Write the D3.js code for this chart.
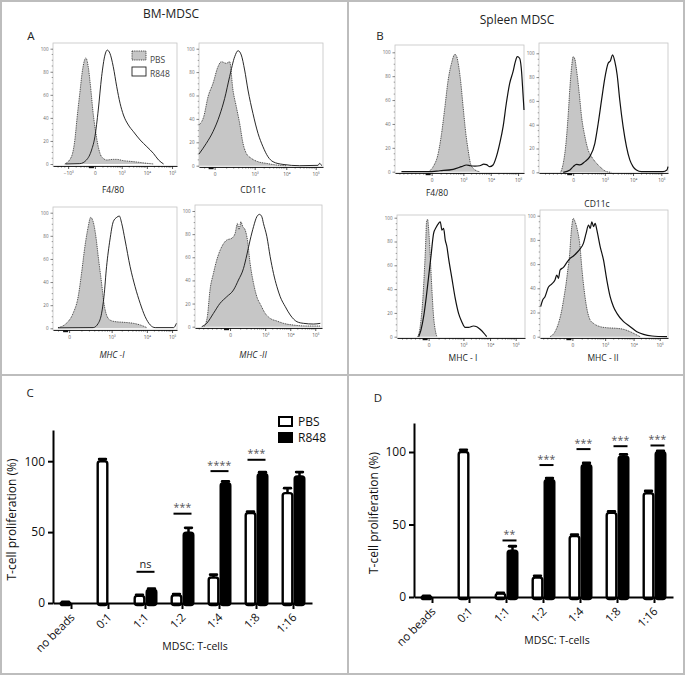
<!DOCTYPE html>
<html><head><meta charset="utf-8">
<script src="https://cdn.jsdelivr.net/npm/d3@7"></script>
<style>body{margin:0;background:#fff}svg{display:block}text{font-family:"Open Sans","Noto Sans",sans-serif}</style>
</head><body><svg id="c" width="685" height="676"></svg>
<script>
// ---------------- DATA ----------------
// Histograms: [position along axis (% of axis width), % of max]
const a1PBS=[[9.5,0],[14.9,6.4],[17.6,20.8],[19.5,41],[21.6,61.3],[23.8,81.5],[26.5,92],[28.4,84.4],[30.3,67],[32.4,44],[34.6,26.6],[36.5,15],[38.4,7.8],[40.5,4.9],[43.2,3.5],[48.6,4],[51.4,4],[56.8,2.9],[62.2,2.3],[67.6,1.7],[75.7,0.6],[81,0]];
const a1R848=[[10,0],[21.6,0.3],[27,3.5],[31.1,12.1],[33.8,23.7],[36.5,46.8],[39.2,75.7],[41.9,94.5],[43.8,98.8],[45.9,96],[48.6,84.4],[51.4,67],[54.1,52.6],[56.8,42.5],[60.8,33.8],[64.9,28],[70.3,20.8],[75.7,15],[81,9.2],[85.1,3.5],[89.2,0]];
const a2PBS=[[0,34.8],[3.8,41.9],[7.3,59],[11.3,70.4],[15.3,84.6],[18,88.9],[22,87.5],[24.7,88.9],[27.4,64.7],[30.1,50.4],[32.8,36.2],[35.5,19.1],[38.2,10.5],[42.2,6.3],[47.6,3.4],[54.3,2],[62.4,0.6],[70.4,0]];
const a2R848=[[0,10],[5.9,19.1],[11.3,29.1],[16.7,43.3],[20.7,57.5],[24.7,76.1],[28.8,93.2],[31.5,98.3],[34.1,94.6],[36.8,81.8],[39.5,64.7],[43.5,44.7],[47.6,27.6],[51.6,16.2],[55.6,7.7],[59.7,3.4],[67.7,1.1],[81.2,0],[96,0.3],[97.3,2],[98.9,0]];
const a3PBS=[[4.1,0.6],[10.8,4.3],[16.2,13],[20.3,27.4],[23,47.6],[25.7,70.6],[28.4,87.9],[30.3,96],[32.4,92.2],[34.6,79.3],[36.5,62],[39.2,38.9],[41.1,21.6],[43.2,11.5],[45.9,7.2],[50,5.8],[56.8,5.2],[64.9,4.3],[70.3,2.9],[75.7,0.6]];
const a3R848=[[4,0.4],[32.4,0.6],[36.5,4.3],[39.2,13],[41.1,27.4],[43.2,53.3],[45.9,76.4],[48.6,92.2],[51.4,96],[53.5,97.1],[55.4,90.8],[58.1,76.4],[62.2,53.3],[66.2,36],[70.3,21.6],[74.3,10.1],[78.4,2.9],[82.4,0.6],[97.3,0.6],[99.5,4.3]];
const a4PBS=[[7.1,0],[9.7,8.6],[11.8,31.7],[14.5,46.1],[17.1,57.6],[21.1,69.2],[25,74.9],[28.9,76.4],[31.6,80.7],[33.4,89.3],[34.7,83.6],[36.1,90.8],[37.6,86.5],[39.5,83.6],[41.3,74.9],[43.4,54.8],[46.1,37.5],[48.7,25.9],[51.8,18.7],[55.3,11.5],[59.2,7.2],[64.5,4.9],[69.7,2.9],[77.6,1.4],[88.2,0.6],[98.7,0.6]];
const a4R848=[[5.3,0],[9.2,2.9],[14.5,11.5],[19.7,20.2],[25,25.9],[30.3,31.7],[34.2,40.3],[38.2,50.4],[40.8,62],[43.4,74.9],[46.1,86.5],[48.7,95.1],[50.8,97.1],[52.6,95.1],[53.9,89.3],[56.6,77.8],[59.2,60.5],[61.8,46.1],[64.5,34.6],[67.1,25.9],[71.1,17.3],[75,10.1],[80.3,4.3],[85.5,2.9],[93.4,2.3],[98.7,2.9]];
const b1PBS=[[25.8,0],[29.6,4.2],[33.5,15.4],[36.1,32.1],[38.7,54.5],[41.2,76.8],[43.8,90.8],[46.4,98.3],[47.7,96.9],[49,90.8],[50.8,76.8],[52.8,54.5],[54.9,32.1],[56.7,18.2],[58.5,7],[60.6,2.8],[63.1,0.8],[65.7,0]];
const b1R848=[[5,0],[25.8,0],[34.8,0.8],[45.1,2],[51.5,4.2],[55.4,5.6],[58.5,5],[61.9,4.7],[65.7,5],[68.8,6.4],[70.9,5.9],[73.5,4.2],[76,5.6],[78.6,12.6],[81.2,23.7],[83.8,37.7],[86.3,57.3],[88.9,74],[91.5,83.8],[93.3,92.2],[94.8,96.4],[96.6,95],[97.9,86.6],[99.2,65.6],[100,51.7]];
const b2PBS=[[16.8,0],[18.8,7.6],[20.9,24.4],[22.7,49.6],[24,72],[25.3,88.8],[26.5,97.2],[27.8,95],[29.1,86],[31.2,66.4],[33,46.8],[35.6,30],[38.1,18.8],[40.7,13.2],[44.6,7.6],[48.5,3.4],[52.3,0.6],[56,0]];
const b2R848=[[18.8,0],[24,2],[26.5,4.8],[29.1,6.7],[31.7,6.2],[35.6,9],[39.4,13.2],[43.3,24.4],[45.9,41.2],[48.5,60.8],[51,79],[53.6,91.6],[55.4,93.8],[57,98.6],[58.8,93],[60.6,81.8],[62.6,60.8],[65.2,38.4],[67.8,21.6],[70.4,10.4],[72.9,4.8],[75.5,2],[79.4,0.6],[96.1,0.6],[99.2,2],[100,4.8]];
const b3PBS=[[16.1,0],[17.7,5.6],[19,16.8],[20.3,33.6],[21.3,53.2],[22.3,75.6],[23.1,96.6],[23.9,98.6],[24.7,91],[26,67.2],[27.3,39.2],[28.6,16.8],[29.9,5.6],[31.2,0]];
const b3R848=[[16.9,0],[18.7,5.6],[20.8,16.8],[22.9,33.6],[24.7,50.4],[26.5,67.2],[28.6,86.8],[30.6,91.9],[32.5,95.2],[33.8,96.6],[35.1,89.6],[36.4,91],[37.7,81.2],[39,75.6],[40.3,65.8],[42.9,49],[45.5,32.2],[48.1,19.6],[50.6,12.6],[53.2,7.8],[55.8,7.8],[59.7,9],[62.3,8.4],[64.9,6.2],[67.5,3.4],[70.1,0]];
const b4PBS=[[7.8,0],[11.7,4.1],[14.4,11],[17,22],[18.8,33.1],[20.4,44.1],[21.7,55.1],[23,66.1],[24.3,85.4],[25.3,95],[26.1,97.8],[27.4,95],[29.2,88.2],[31.3,74.4],[32.6,57.9],[34.5,38.6],[36.6,23.4],[39.2,13.8],[41.8,11],[47,8.3],[52.2,7.4],[60.1,6.9],[65.3,6.1],[70.5,4.1],[75.7,1.4],[78.3,0]];
const b4R848=[[0.5,24.8],[2.1,30.3],[3.9,33.1],[6.5,40.8],[9.1,43.5],[11.7,46.8],[13.1,51],[14.4,48.2],[15.7,55.1],[18.3,57.3],[20.9,61.2],[23.5,64.7],[26.1,66.7],[28.7,69.4],[31.3,72.5],[33.9,77.1],[36,85.4],[37.9,92.3],[39.2,89.5],[40.5,95],[41.8,90.9],[43.1,93.7],[44.4,88.2],[47,74.4],[49.6,63.4],[52.2,46.8],[54.8,33.1],[57.4,24.8],[60.1,19.3],[65.3,12.4],[70.5,8.3],[75.7,4.1],[80.9,1.9],[87.5,0.6],[99.2,0]];
// histogram axis ticks (position % of axis width) and labels
const histYTicks=[0,20,40,60,80,100];
const a1Ticks=[12.2,33.8,55.4,75.7,96], a1Labels=["−10³","0","10³","10⁴","10⁵"];
const a2Ticks=[12.6,44.9,70.4,94.1], a2Labels=["0","10³","10⁴","10⁵"];
const a3Ticks=[13,47.3,75.7,96], a3Labels=["0","10³","10⁴","10⁵"];
const a4Ticks=[27.6,55.3,75,94.7], a4Labels=["0","10³","10⁴","10⁵"];
const b1Ticks=[28.4,53,74.2,95.4], b1Labels=["0","10³","10⁴","10⁵"];
const b2Ticks=[26.5,51,72.9,94.8], b2Labels=["0","10³","10⁴","10⁵"];
const b3Ticks=[24.7,51.9,72.7,92.7], b3Labels=["0","10³","10⁴","10⁵"];
const b4Ticks=[25.3,50.9,73.1,93.5], b4Labels=["0","10³","10⁴","10⁵"];

// Bar charts
const catsBar=["no beads","0:1","1:1","1:2","1:4","1:8","1:16"];
const seriesNames=["PBS","R848"];
const cPBS=[0.5,100,5,5.5,18,63.5,77.5];
const cPBSerr=[0.3,1.5,0.8,0.8,2,1,3.5];
const cR848=[null,null,9.3,49.5,84.5,91,89.3];
const cR848err=[null,null,0.8,3.5,1.2,1.2,3];
const cSig=[["1:1",22,"ns"],["1:2",63,"***"],["1:4",93,"****"],["1:8",101,"***"]];
const dPBS=[0.5,100,2.3,13.4,42,58,71.6];
const dPBSerr=[0.3,1.5,0.5,1.2,1,1,1.5];
const dR848=[null,null,32,80.8,91,97,100];
const dR848err=[null,null,3,1.2,1.5,1.3,0.7];
const dSig=[["1:1",39,"**"],["1:2",91,"***"],["1:4",102,"***"],["1:8",104,"***"],["1:16",104.5,"***"]];
const barYTicks=[0,50,100];

// ---------------- DRAW ----------------
const svg=d3.select('#c');
const gray='#bdbdbd';
svg.append('rect').attr('x',1).attr('y',1).attr('width',683).attr('height',673).attr('fill','none').attr('stroke',gray).attr('stroke-width',2);
svg.append('line').attr('x1',348).attr('x2',348).attr('y1',1).attr('y2',674).attr('stroke',gray).attr('stroke-width',2);
svg.append('line').attr('x1',1).attr('x2',684).attr('y1',375).attr('y2',375).attr('stroke',gray).attr('stroke-width',2);

function txt(x,y,s,size,opt={}){
  const t=svg.append('text').attr('x',x).attr('y',y).text(s).attr('font-size',size)
    .attr('text-anchor',opt.anchor||'middle').attr('fill',opt.fill||'#222');
  if(opt.italic) t.attr('font-style','italic');
  return t;
}
txt(171,18,'BM-MDSC',12);
txt(31,40,'A',11.5);
txt(517,24,'Spleen MDSC',12);
txt(380,40,'B',11.5);
txt(30,397,'C',11.5);
txt(378,402,'D',11.5);

const hists=[
 {box:[53,43,177,166],y0:164,y100:48.7,pbs:a1PBS,r848:a1R848,ticks:a1Ticks,labels:a1Labels,lw:0.9,label:'F4/80',lx:113,ly:193},
 {box:[199,43,323,167],y0:165.7,y100:48.7,pbs:a2PBS,r848:a2R848,ticks:a2Ticks,labels:a2Labels,lw:0.9,label:'CD11c',lx:253,ly:193},
 {box:[53,207,177,330],y0:328.3,y100:212.7,pbs:a3PBS,r848:a3R848,ticks:a3Ticks,labels:a3Labels,lw:0.9,label:'MHC -I',lx:112,ly:358,italic:true},
 {box:[195,205,322,328],y0:326.7,y100:211,pbs:a4PBS,r848:a4R848,ticks:a4Ticks,labels:a4Labels,lw:0.9,label:'MHC -II',lx:253,ly:358,italic:true},
 {box:[395,45,524,173],y0:171.7,y100:52.3,pbs:b1PBS,r848:b1R848,ticks:b1Ticks,labels:b1Labels,lw:1.2,label:'F4/80',lx:437,ly:196},
 {box:[539,43,668,173],y0:172.3,y100:53.3,pbs:b2PBS,r848:b2R848,ticks:b2Ticks,labels:b2Labels,lw:1.2,label:'CD11c',lx:597,ly:207},
 {box:[397,215,525,338],y0:336.7,y100:217.7,pbs:b3PBS,r848:b3R848,ticks:b3Ticks,labels:b3Labels,lw:1.2,label:'MHC - I',lx:463,ly:361},
 {box:[540,210,668,338],y0:336.7,y100:215.7,pbs:b4PBS,r848:b4R848,ticks:b4Ticks,labels:b4Labels,lw:1.2,label:'MHC - II',lx:603,ly:361}
];

function drawHist(p){
  const [L,T,R,B]=p.box;
  const x=d3.scaleLinear().domain([0,100]).range([L,R]);
  const y=d3.scaleLinear().domain([0,100]).range([p.y0,p.y100]);
  const g=svg.append('g');
  g.append('rect').attr('x',L).attr('y',T).attr('width',R-L).attr('height',B-T).attr('fill','none').attr('stroke','#c4c4c4').attr('stroke-width',0.8);
  const area=d3.area().x(d=>x(d[0])).y0(y(0)).y1(d=>y(d[1])).curve(d3.curveMonotoneX);
  const line=d3.line().x(d=>x(d[0])).y(d=>y(d[1])).curve(d3.curveMonotoneX);
  g.append('path').datum(p.pbs).attr('d',area).attr('fill','#c6c6c6');
  g.append('path').datum(p.pbs).attr('d',line).attr('fill','none').attr('stroke','#222').attr('stroke-width',0.8).attr('stroke-dasharray','1,0.8');
  g.append('path').datum(p.r848).attr('d',line).attr('fill','none').attr('stroke','#111').attr('stroke-width',p.lw);
  // y axis
  const ya=g.append('g').attr('transform',`translate(${L},0)`).call(d3.axisLeft(y).tickValues(histYTicks).tickSize(2.5).tickPadding(2));
  ya.select('.domain').remove();
  ya.selectAll('line').attr('stroke','#333').attr('stroke-width',0.6);
  ya.selectAll('text').attr('font-size',4.5).attr('fill','#666');
  const minorY=d3.range(5,100,5).filter(v=>v%20!==0);
  g.selectAll(null).data(minorY).join('line').attr('x1',L-1.3).attr('x2',L).attr('y1',d=>y(d)).attr('y2',d=>y(d)).attr('stroke','#444').attr('stroke-width',0.5);
  // x axis
  const xa=g.append('g').attr('transform',`translate(0,${B})`).call(d3.axisBottom(x).tickValues(p.ticks).tickFormat((d,i)=>p.labels[i]).tickSize(3).tickSizeOuter(0).tickPadding(3));
  xa.select('.domain').attr('stroke','#111').attr('stroke-width',0.9);
  xa.selectAll('line').attr('stroke','#111').attr('stroke-width',0.7);
  xa.selectAll('text').attr('font-size',4.8).attr('fill','#555');
  // minor log ticks
  const minor=[];
  for(let i=0;i<p.ticks.length-1;i++){
    for(let k=2;k<=9;k++) minor.push(p.ticks[i]+Math.log10(k)*(p.ticks[i+1]-p.ticks[i]));
  }
  const step=(p.ticks[1]-p.ticks[0])/8;
  for(let v=p.ticks[0]-step;v>2;v-=step) minor.push(v);
  g.selectAll(null).data(minor).join('line').attr('x1',d=>x(d)).attr('x2',d=>x(d)).attr('y1',B).attr('y2',B+1.6).attr('stroke','#111').attr('stroke-width',0.5);
  // dense cluster around zero
  const zi=p.labels.indexOf('0');
  const zx=x(p.ticks[zi]);
  g.append('rect').attr('x',zx-6).attr('y',B).attr('width',5).attr('height',2.2).attr('fill','#111');
  txt(p.lx,p.ly,p.label,8.5,{fill:'#222',italic:p.italic});
}
hists.forEach(drawHist);

// legend in A
svg.append('rect').attr('x',132).attr('y',51).attr('width',14).attr('height',9).attr('fill','#c6c6c6').attr('stroke','#222').attr('stroke-width',0.8).attr('stroke-dasharray','1,0.8');
txt(150,63,'PBS',8.5,{anchor:'start',fill:'#444'});
svg.append('rect').attr('x',132).attr('y',67).attr('width',14).attr('height',9).attr('fill','#fff').attr('stroke','#222').attr('stroke-width',0.9);
txt(150,77,'R848',8.5,{anchor:'start',fill:'#444'});

const barCharts=[
 {L:53,R:312,T:430,B:603,ymax:122,pbs:cPBS,pbsErr:cPBSerr,r848:cR848,r848Err:cR848err,sig:cSig,sigL:-9,sigR:9,ytx:16,xtx:195,xty:650},
 {L:414,R:673,T:423,B:597,ymax:120,pbs:dPBS,pbsErr:dPBSerr,r848:dR848,r848Err:dR848err,sig:dSig,sigL:-4,sigR:10,ytx:378,xtx:557,xty:644}
];
function drawBars(p){
  const x0=d3.scaleBand().domain(catsBar).range([p.L,p.R]);
  const half=x0.bandwidth()/2;
  const x1=d3.scaleBand().domain(seriesNames).range([half-12,half+12]);
  const y=d3.scaleLinear().domain([0,p.ymax]).range([p.B,p.T]);
  const g=svg.append('g');
  const rows=catsBar.flatMap((c,i)=>[
    {c,s:'PBS',v:p.pbs[i],e:p.pbsErr[i]},
    {c,s:'R848',v:p.r848[i],e:p.r848Err[i]}]).filter(d=>d.v!=null);
  g.selectAll('rect.bar').data(rows).join('rect').attr('class','bar')
    .attr('x',d=>x0(d.c)+x1(d.s)+1.2).attr('width',x1.bandwidth()-2.4)
    .attr('y',d=>y(d.v)).attr('height',d=>Math.max(0.3,y(0)-y(d.v)+2))
    .attr('rx',2.5)
    .attr('fill',d=>d.s==='PBS'?'#fff':'#000').attr('stroke','#000').attr('stroke-width',2.4);
  rows.forEach(d=>{
    const cx=x0(d.c)+x1(d.s)+x1.bandwidth()/2;
    g.append('line').attr('x1',cx).attr('x2',cx).attr('y1',y(d.v)).attr('y2',y(d.v+d.e)).attr('stroke','#000').attr('stroke-width',2.5);
    g.append('line').attr('x1',cx-3.3).attr('x2',cx+3.3).attr('y1',y(d.v+d.e)).attr('y2',y(d.v+d.e)).attr('stroke','#000').attr('stroke-width',2.8).attr('stroke-linecap','round');
  });
  // significance
  p.sig.forEach(([c,v,lab])=>{
    const cx=x0(c)+half;
    g.append('line').attr('x1',cx+p.sigL).attr('x2',cx+p.sigR).attr('y1',y(v)).attr('y2',y(v)).attr('stroke','#000').attr('stroke-width',2);
    g.append('text').attr('x',cx+(p.sigL+p.sigR)/2).attr('y',y(v)-(lab==='ns'?4:2.5)).attr('text-anchor','middle')
      .attr('font-size',lab==='ns'?11:10.5).attr('letter-spacing',lab==='ns'?0:0.3).attr('fill',lab==='ns'?'#222':'#555').text(lab);
  });
  // axes
  const ya=g.append('g').attr('transform',`translate(${p.L},0)`).call(d3.axisLeft(y).tickValues(barYTicks).tickSize(5).tickSizeOuter(0).tickPadding(3));
  ya.select('.domain').attr('stroke','#000').attr('stroke-width',2);
  ya.selectAll('.tick line').attr('stroke','#000').attr('stroke-width',2);
  ya.selectAll('text').attr('font-size',12).attr('fill','#111');
  const xa=g.append('g').attr('transform',`translate(0,${p.B})`).call(d3.axisBottom(x0).tickSize(6).tickSizeOuter(0));
  xa.select('.domain').attr('stroke','#000').attr('stroke-width',2);
  xa.selectAll('.tick line').attr('stroke','#000').attr('stroke-width',2);
  xa.selectAll('text').attr('x',0).attr('y',0).attr('dy',0).attr('transform','translate(4,15) rotate(-45)')
    .attr('text-anchor','end').attr('font-size',11.5).attr('fill','#111');
  svg.append('text').attr('transform',`translate(${p.ytx},${(p.B+p.T)/2+3}) rotate(-90)`).attr('text-anchor','middle').attr('font-size',12).attr('fill','#111').text('T-cell proliferation (%)');
  txt(p.xtx,p.xty,'MDSC: T-cells',10.5,{fill:'#111'});
}
barCharts.forEach(drawBars);

// legend in C
svg.append('rect').attr('x',279).attr('y',417).attr('width',13).attr('height',9).attr('fill','#fff').attr('stroke','#000').attr('stroke-width',2);
txt(298,426,'PBS',12,{anchor:'start',fill:'#111'});
svg.append('rect').attr('x',278).attr('y',432).attr('width',15).attr('height',11).attr('fill','#000');
txt(298,442,'R848',12,{anchor:'start',fill:'#111'});
</script></body></html>
